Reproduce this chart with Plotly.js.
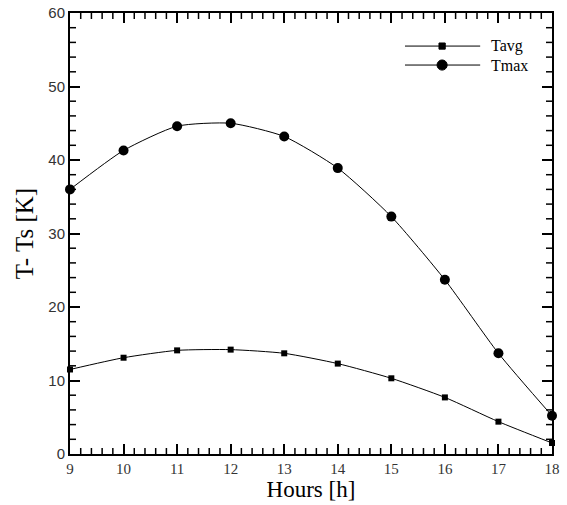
<!DOCTYPE html>
<html>
<head>
<meta charset="utf-8">
<script src="https://cdn.plot.ly/plotly-3.0.1.min.js"></script>
<style>html,body{margin:0;padding:0;background:#fff;}#chart{width:567px;height:505px;}</style>
</head>
<body>
<div id="chart"></div>
<script>
// Temperature rise above surface temperature over the day
const hours = [9, 10, 11, 12, 13, 14, 15, 16, 17, 18];
const tAvg = [11.5, 13.1, 14.1, 14.2, 13.7, 12.3, 10.3, 7.7, 4.4, 1.5];
const tMax = [36.0, 41.3, 44.6, 45.0, 43.2, 38.9, 32.3, 23.7, 13.7, 5.2];
const seriesNames = ['Tavg', 'Tmax'];
const xTicks = [9, 10, 11, 12, 13, 14, 15, 16, 17, 18];
const yTicks = [0, 10, 20, 30, 40, 50, 60];

const serif = 'Liberation Serif, Times New Roman, serif';
const sans = 'Liberation Sans, Arial, sans-serif';

const xMin = xTicks[0], xMax = xTicks[xTicks.length - 1];
const yMin = yTicks[0], yMax = yTicks[yTicks.length - 1];

const traces = [
  {
    x: hours, y: tAvg, name: seriesNames[0], mode: 'lines+markers',
    line: {color: '#000', width: 1, shape: 'spline', smoothing: 0.6},
    marker: {symbol: 'square', size: 6, color: '#000'},
    cliponaxis: false, showlegend: false
  },
  {
    x: hours, y: tMax, name: seriesNames[1], mode: 'lines+markers',
    line: {color: '#000', width: 1, shape: 'spline', smoothing: 0.6},
    marker: {symbol: 'circle', size: 10, color: '#000'},
    cliponaxis: false, showlegend: false
  }
];

const shapes = [];
const annotations = [];

// Short minor ticks on all four sides of the frame (every 0.2 h, every 2 K),
// placed in data units and sized in pixels
const minorLen = 6;
const tickLine = {color: '#000', width: 1.5};
for (let i = 1; i < (xMax - xMin) * 5; i++) {
  if (i % 5 === 0) continue;
  const xv = +(xMin + i * 0.2).toFixed(1);
  shapes.push({type: 'line', xref: 'x', yref: 'y', x0: xv, x1: xv, ysizemode: 'pixel', yanchor: yMin,
               y0: 0, y1: minorLen, line: tickLine, layer: 'above'});
  shapes.push({type: 'line', xref: 'x', yref: 'y', x0: xv, x1: xv, ysizemode: 'pixel', yanchor: yMax,
               y0: 0, y1: -minorLen, line: tickLine, layer: 'above'});
}
for (let v = yMin + 2; v < yMax; v += 2) {
  if (v % 10 === 0) continue;
  shapes.push({type: 'line', xref: 'x', yref: 'y', y0: v, y1: v, xsizemode: 'pixel', xanchor: xMin,
               x0: 0, x1: minorLen, line: tickLine, layer: 'above'});
  shapes.push({type: 'line', xref: 'x', yref: 'y', y0: v, y1: v, xsizemode: 'pixel', xanchor: xMax,
               x0: 0, x1: -minorLen, line: tickLine, layer: 'above'});
}

// Hand-placed legend box in the upper right of the plot area
const legendRows = [
  {name: seriesNames[0], y: 0.925, shape: 'rect', half: 0.0065, halfY: 0.007},
  {name: seriesNames[1], y: 0.882, shape: 'circle', half: 0.0105, halfY: 0.0115}
];
legendRows.forEach(r => {
  shapes.push({type: 'line', xref: 'paper', yref: 'paper', x0: 0.695, x1: 0.851, y0: r.y, y1: r.y,
               line: {color: '#000', width: 1}});
  shapes.push({type: r.shape, xref: 'paper', yref: 'paper',
               x0: 0.772 - r.half, x1: 0.772 + r.half, y0: r.y - r.halfY, y1: r.y + r.halfY,
               fillcolor: '#000', line: {color: '#000', width: 1}});
  annotations.push({xref: 'paper', yref: 'paper', x: 0.87, y: r.y, xanchor: 'left', yanchor: 'middle',
                    text: r.name, showarrow: false, font: {family: serif, size: 16, color: '#000'}});
});

const layout = {
  width: 567, height: 505,
  margin: {l: 70, r: 15, t: 13, b: 51},
  paper_bgcolor: '#fff', plot_bgcolor: '#fff',
  showlegend: false,
  xaxis: {
    range: [xMin, xMax], tickvals: xTicks, ticktext: xTicks.map(String),
    ticks: 'inside', ticklen: 10, tickwidth: 2, tickcolor: '#000',
    showline: true, linewidth: 2, linecolor: '#000', mirror: 'allticks',
    showgrid: false, zeroline: false,
    tickfont: {family: serif, size: 15, color: '#333'},
    title: {text: 'Hours [h]', font: {family: serif, size: 23, color: '#000'}, standoff: 0}
  },
  yaxis: {
    range: [yMin, yMax], tickvals: yTicks, ticktext: yTicks.map(String),
    ticks: 'inside', ticklen: 10, tickwidth: 2, tickcolor: '#000',
    showline: true, linewidth: 2, linecolor: '#000', mirror: 'allticks',
    showgrid: false, zeroline: false,
    tickfont: {family: sans, size: 15, color: '#333'},
    title: {text: 'T- Ts [K]', font: {family: serif, size: 25, color: '#000'}, standoff: 8}
  },
  shapes: shapes,
  annotations: annotations
};

Plotly.newPlot('chart', traces, layout, {displayModeBar: false});
</script>
</body>
</html>
